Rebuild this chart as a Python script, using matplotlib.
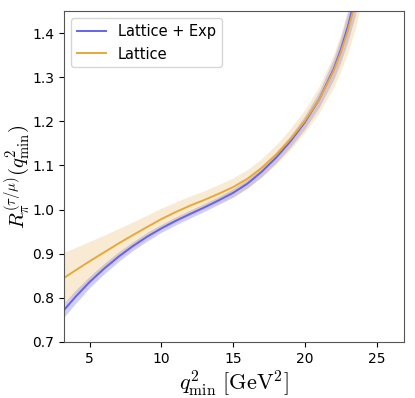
import matplotlib
matplotlib.use("Agg")
import matplotlib.pyplot as plt
import numpy as np

plt.rcParams['mathtext.fontset'] = 'cm'

# q^2_min grid (GeV^2)
q2 = [3.2, 4, 5, 6, 7, 8, 9, 10, 11, 12, 13, 14, 15, 16, 17, 18, 19, 20,
      21, 22, 22.5, 23, 23.5, 24]

# Lattice + Exp: central value and half-width of band
lat_exp = [0.772, 0.802, 0.836, 0.866, 0.893, 0.917, 0.9385, 0.9575, 0.9745,
           0.990, 1.005, 1.021, 1.038, 1.059, 1.086, 1.118, 1.155, 1.198,
           1.250, 1.318, 1.362, 1.415, 1.480, 1.560]
lat_exp_err = [0.016, 0.015, 0.013, 0.012, 0.011, 0.010, 0.010, 0.009, 0.009,
               0.009, 0.009, 0.009, 0.010, 0.010, 0.011, 0.012, 0.013, 0.015,
               0.018, 0.024, 0.028, 0.034, 0.042, 0.050]

# Lattice only
lat = [0.845, 0.862, 0.883, 0.903, 0.923, 0.942, 0.9605, 0.9785, 0.9945,
       1.009, 1.022, 1.036, 1.051, 1.070, 1.095, 1.125, 1.160, 1.201,
       1.250, 1.314, 1.356, 1.406, 1.468, 1.545]
lat_err = [0.058, 0.052, 0.045, 0.039, 0.034, 0.030, 0.027, 0.025, 0.023,
           0.022, 0.021, 0.021, 0.021, 0.021, 0.021, 0.022, 0.024, 0.026,
           0.030, 0.037, 0.042, 0.050, 0.060, 0.070]

q2 = np.array(q2)
lat_exp, lat_exp_err = np.array(lat_exp), np.array(lat_exp_err)
lat, lat_err = np.array(lat), np.array(lat_err)

c_blue = '#6363ef'
c_orange = '#e8a83a'

fig = plt.figure(figsize=(4.15, 3.98), dpi=100)
ax = fig.add_axes([0.154, 0.141, 0.819, 0.831])

ax.fill_between(q2, lat_exp - lat_exp_err, lat_exp + lat_exp_err,
                color=c_blue, alpha=0.3, lw=0)
ax.plot(q2, lat_exp, color=c_blue, lw=1.4, label='Lattice + Exp')
ax.fill_between(q2, lat - lat_err, lat + lat_err,
                color=c_orange, alpha=0.22, lw=0)
ax.plot(q2, lat, color=c_orange, lw=1.4, label='Lattice')

ax.set_xlim(3.2, 26.9)
ax.set_ylim(0.7, 1.45)
ax.set_xticks([5, 10, 15, 20, 25])
ax.set_yticks([0.7, 0.8, 0.9, 1.0, 1.1, 1.2, 1.3, 1.4])
ax.tick_params(labelsize=10)
for s in ax.spines.values():
    s.set_color('#555555')

ax.set_xlabel(r'$q^2_{\rm min}\ [{\rm GeV}^2]$', fontsize=16, labelpad=2)
ax.set_ylabel(r'$R_\pi^{(\tau/\mu)}(q^2_{\rm min})$', fontsize=15, labelpad=0)
ax.legend(loc='upper left', fontsize=10.5)

fig.savefig('out.png', dpi=100)
